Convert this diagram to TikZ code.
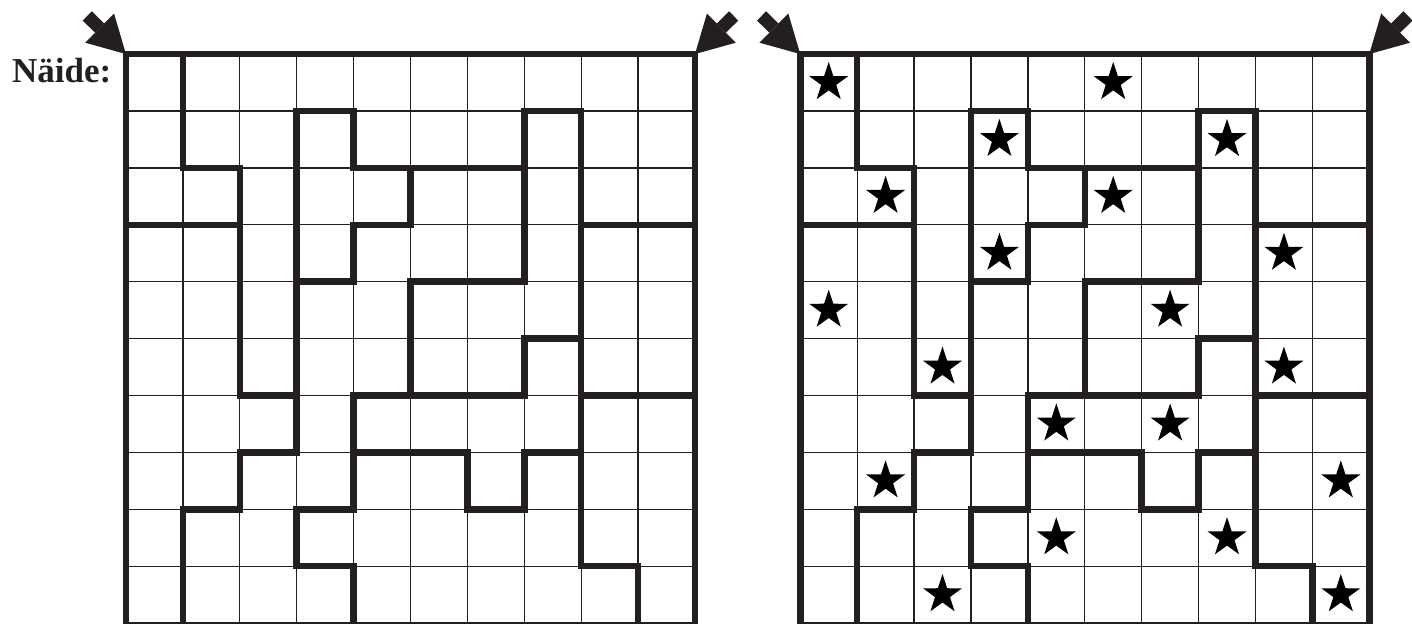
\documentclass[tikz,border=0pt]{standalone}
\usepackage{fontspec}
\setmainfont{Liberation Serif}
\usetikzlibrary{shapes.geometric,arrows.meta}
\definecolor{ink}{HTML}{231F20}

\begin{document}
\begin{tikzpicture}[
    x=56.9pt, y=56.9pt,
    gridline/.style={line width=1.3pt, draw=ink},
    wall/.style={line width=6.5pt, line join=miter, line cap=rect, draw=ink},
    cornerarrow/.style={line width=13pt, draw=ink, -{Triangle[length=37pt,width=41pt,line width=0pt]}},
    starmark/.style={star, star points=5, star point ratio=2.6, fill=black, inner sep=0pt, minimum size=41pt},
    title/.style={font=\bfseries\fontsize{35}{40}\selectfont, text=ink, inner sep=0pt, anchor=base west},
]
\useasboundingbox (-2.214,-10) rectangle (22.601,0.95);

% Label
\node[title] (label) at (-2.003,-0.492) {Näide:};

% Two copies of the puzzle: left = example, right = solution
\foreach \ox/\g in {0/L, 11.85/R} {
\begin{scope}[shift={(\ox,0)}]
  \draw[gridline, step=1] (0,0) grid (10,-10);
  % Regions
  \draw[wall] (1,0) -- (1,-2) -- (2,-2) -- (2,-6) -- (3,-6);
  \draw[wall] (0,-3) -- (2,-3);
  \draw[wall] (1,-10) -- (1,-8) -- (2,-8) -- (2,-7) -- (3,-7) -- (3,-1) -- (4,-1) -- (4,-2) -- (7,-2) -- (7,-1) -- (8,-1) -- (8,-9) -- (9,-9) -- (9,-10);
  \draw[wall] (5,-2) -- (5,-3) -- (4,-3) -- (4,-4) -- (3,-4);
  \draw[wall] (5,-6) -- (5,-4) -- (7,-4) -- (7,-2);
  \draw[wall] (8,-5) -- (7,-5) -- (7,-6) -- (4,-6) -- (4,-8) -- (3,-8) -- (3,-9) -- (4,-9) -- (4,-10);
  \draw[wall] (4,-7) -- (6,-7) -- (6,-8) -- (7,-8) -- (7,-7) -- (8,-7);
  \draw[wall] (8,-3) -- (10,-3);
  \draw[wall] (8,-6) -- (10,-6);
  % Border
  \draw[wall] (0,-10) -- (0,0) -- (10,0) -- (10,-10);
  % Corner arrows
  \coordinate (\g-nw) at (0,0);
  \coordinate (\g-ne) at (10,0);
  \coordinate (\g-nwtail) at (-0.68,0.67);
  \coordinate (\g-netail) at (10.68,0.67);
  \draw[cornerarrow] (\g-nwtail) -- (\g-nw);
  \draw[cornerarrow] (\g-netail) -- (\g-ne);
\end{scope}
}

% Stars
\begin{scope}[shift={(11.85,0)}]
  \foreach \c/\r [count=\k] in {0/0,5/0,3/1,7/1,1/2,5/2,3/3,8/3,0/4,6/4,2/5,8/5,4/6,6/6,1/7,9/7,4/8,7/8,2/9,9/9}
    \node[starmark] (star\k) at (\c+0.5,-\r-0.5) {};
\end{scope}

\end{tikzpicture}
\end{document}
